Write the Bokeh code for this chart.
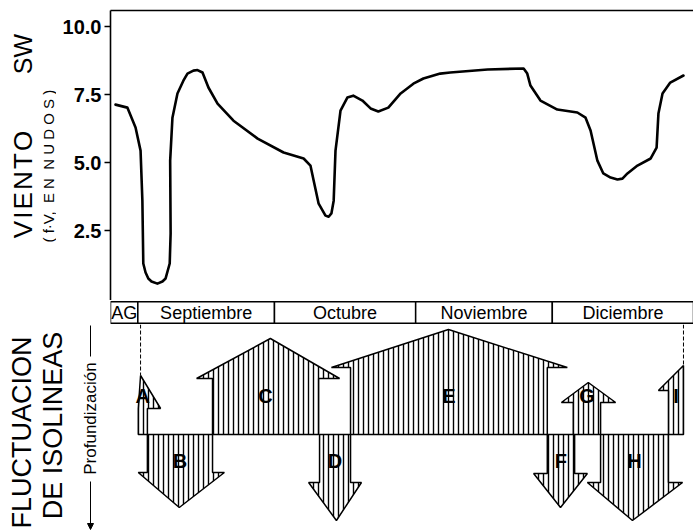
import math

from bokeh.core.properties import value
from bokeh.embed import file_html
from bokeh.layouts import column, row
from bokeh.models import (Arrow, FixedTicker, LinearAxis, NormalHead,
                          PrintfTickFormatter, Range1d)
from bokeh.plotting import figure
from bokeh.resources import INLINE

# --- wind (f.V, knots), days counted from 26 August -------------------------
day = [1.1, 3.7, 5.5, 6.6, 7.0, 7.2, 7.7, 8.3, 9.0, 10.3, 11.4, 12.1, 13.0,
       13.2, 13.1, 13.6, 14.7, 16.0, 16.9, 18.2, 19.1, 20.2, 21.5, 23.5, 27.0,
       32.3, 38.0, 42.4, 43.9, 44.6, 45.7, 47.2, 47.9, 48.5, 49.0, 49.4, 50.5,
       52.0, 53.3, 55.3, 57.1, 58.8, 61.0, 63.7, 66.5, 68.7, 72.4, 74.6, 82.8,
       90.7, 91.5, 92.2, 94.4, 98.1, 102.5, 104.3, 105.4, 106.9, 108.2, 109.8,
       111.3, 112.4, 113.5, 115.7, 118.6, 119.9, 120.3, 121.2, 122.9, 125.8]
wind = [7.13, 7.02, 6.29, 5.44, 3.60, 1.29, 0.96, 0.74, 0.63, 0.55, 0.63, 0.74,
        1.29, 2.39, 5.07, 6.65, 7.54, 8.01, 8.27, 8.38, 8.40, 8.31, 7.76, 7.17,
        6.54, 5.88, 5.37, 5.15, 4.89, 4.34, 3.49, 3.05, 3.01, 3.13, 3.60, 5.44,
        6.91, 7.39, 7.46, 7.28, 6.99, 6.88, 7.02, 7.54, 7.90, 8.09, 8.27, 8.31,
        8.42, 8.46, 8.27, 7.83, 7.28, 6.95, 6.84, 6.65, 6.18, 5.07, 4.60, 4.45,
        4.38, 4.41, 4.60, 4.89, 5.15, 5.55, 6.80, 7.54, 7.94, 8.20]
wind_ticks = [2.5, 5.0, 7.5, 10.0]

# --- month band --------------------------------------------------------------
month_names = ["AG", "Septiembre", "Octubre", "Noviembre", "Diciembre"]
month_start = [0, 6, 36, 67, 97]
month_end = [6, 36, 67, 97, 128]

# --- isoline fluctuation arrows (+ = rise, - = deepening) -------------------
arrow_names = ["A", "B", "C", "D", "E", "F", "G", "H", "I"]
shaft_left = [6.1, 8.1, 22.4, 45.9, 52.7, 95.9, 101.6, 107.6, 122.5]
shaft_right = [8.1, 22.4, 45.7, 52.7, 95.9, 101.9, 107.6, 122.5, 125.8]
head_left = [6.1, 6.1, 18.9, 43.5, 48.5, 92.9, 99.0, 104.7, 120.3]
head_right = [11.0, 25.0, 50.3, 55.1, 100.3, 104.7, 110.9, 125.6, 125.8]
head_x = [6.6, 15.1, 35.1, 49.6, 74.2, 98.8, 104.9, 114.6, 125.8]
neck = [2.6, -3.8, 5.6, -4.8, 6.7, -3.9, 3.2, -4.8, 4.4]
tip = [5.9, -7.3, 9.6, -8.6, 10.5, -7.3, 5.2, -8.6, 6.9]

FONT = "Liberation Sans"
FRAME_LEFT = 110          # page x of the plotting frames
x_days = Range1d(0, 128)


def make_fig(width, height, y_range, border_left=0, top=0, x_range=None):
    p = figure(width=width, height=height,
               x_range=x_range if x_range is not None else Range1d(0, width),
               y_range=Range1d(*y_range), x_axis_location=None,
               y_axis_location=None, toolbar_location=None,
               output_backend="svg", min_border_left=border_left,
               min_border_right=0, min_border_top=top, min_border_bottom=0)
    p.outline_line_color = None
    p.grid.visible = False
    p.background_fill_color = "white"
    p.border_fill_color = "white"
    return p


def side_text(p, height, items):
    """Vertical (bottom-to-top) titles in a plain label panel."""
    for txt, x, y, size in items:
        p.text(x=[x], y=[height - y], text=[txt], angle=math.pi / 2,
               text_align="center", text_baseline="middle",
               text_font=value(FONT), text_font_size=size, text_color="black")


# ---------------- wind panel ----------------
TOP_H = 300
LAB_TOP_W = 56
p1 = make_fig(693 - LAB_TOP_W, TOP_H, (-0.07, 10.59),
              border_left=FRAME_LEFT - LAB_TOP_W, top=10, x_range=x_days)
p1.line(day, wind, line_width=2.6, line_color="black",
        line_join="round", line_cap="round")

yax = LinearAxis(ticker=FixedTicker(ticks=wind_ticks),
                 formatter=PrintfTickFormatter(format="%.1f"))
yax.axis_line_width = 1.6
yax.major_tick_line_width = 1.6
yax.major_tick_in = 0
yax.major_tick_out = 6
yax.minor_tick_line_color = None
yax.major_label_standoff = 3
yax.major_label_text_font = FONT
yax.major_label_text_font_size = "20px"
yax.major_label_text_font_style = "bold"
yax.major_label_text_color = "black"
p1.add_layout(yax, "left")

top_line = LinearAxis(ticker=FixedTicker(ticks=[]))
top_line.axis_line_width = 1.6
top_line.major_tick_line_color = None
top_line.minor_tick_line_color = None
top_line.major_tick_out = 0
top_line.major_label_standoff = 0
top_line.major_label_text_font_size = "0px"
p1.add_layout(top_line, "above")

lab_top = make_fig(LAB_TOP_W, TOP_H, (0, TOP_H))
side_text(lab_top, TOP_H, [
    ("SW", 22, 45, "25px"),
    ("V\u200aI\u200aE\u200aN\u200aT\u200aO", 22, 180, "26px"),
    ("( f\u00b7V,\u00a0\u00a0E N\u00a0\u00a0N U D O S )", 48, 161, "15px"),
])

# ---------------- month band ----------------
BAND_H = 24
p2 = make_fig(693, BAND_H, (-0.06, 1.06), border_left=FRAME_LEFT, x_range=x_days)
p2.quad(left=month_start, right=month_end, bottom=0, top=1,
        fill_color="white", line_color="black", line_width=1.5)
p2.text(x=[(a + b) / 2 for a, b in zip(month_start, month_end)],
        y=[0.5] * len(month_names), text=month_names,
        text_align="center", text_baseline="middle",
        text_font=value(FONT), text_font_size="18px", text_color="black")

# ---------------- arrows panel ----------------
BOT_H = 531 - TOP_H - BAND_H
LAB_BOT_W = 100
p3 = make_fig(693 - LAB_BOT_W, BOT_H, (-9.7, 11.0),
              border_left=FRAME_LEFT - LAB_BOT_W, x_range=x_days)
xs, ys = [], []
for sl, sr, hl, hr, hx, nk, tp in zip(shaft_left, shaft_right, head_left,
                                      head_right, head_x, neck, tip):
    xs.append([sl, sl, hl, hx, hr, sr, sr])
    ys.append([0, nk, nk, tp, nk, nk, 0])
p3.patches(xs, ys, fill_color="white", line_color="black", line_width=1.5,
           hatch_pattern="|", hatch_color="black", hatch_scale=5,
           hatch_weight=1.4)

# dashed limits of the observation period
p3.segment(x0=[head_x[0], head_x[-1]], y0=[11.0, 11.0],
           x1=[head_x[0], head_x[-1]], y1=[tip[0], tip[-1]],
           line_color="black", line_width=1, line_dash="4 2")

p3.text(x=[(a + b) / 2 for a, b in zip(shaft_left, shaft_right)],
        y=[3.9 if t > 0 else -2.6 for t in tip], text=arrow_names,
        text_align="center", text_baseline="middle",
        text_font=value(FONT), text_font_size="20px", text_font_style="bold",
        text_color="black")

lab_bot = make_fig(LAB_BOT_W, BOT_H, (0, BOT_H))
y0 = TOP_H + BAND_H
side_text(lab_bot, BOT_H, [
    ("FLUCTUACION", 21, 432 - y0, "27px"),
    ("DE ISOLINEAS", 52, 425 - y0, "27px"),
    ("Profundización", 90, 418 - y0, "17px"),
])
lab_bot.segment(x0=[90], y0=[BOT_H - 1], x1=[90], y1=[BOT_H - (356 - y0)],
                line_color="black", line_width=1)
lab_bot.add_layout(Arrow(x_start=90, y_start=BOT_H - (481 - y0),
                         x_end=90, y_end=BOT_H - (529 - y0),
                         line_color="black", line_width=1,
                         end=NormalHead(size=6, fill_color="black",
                                        line_color="black")))

layout = column(row(lab_top, p1, spacing=0), p2, row(lab_bot, p3, spacing=0),
                spacing=0)
open("out.html", "w").write(file_html(layout, INLINE))
